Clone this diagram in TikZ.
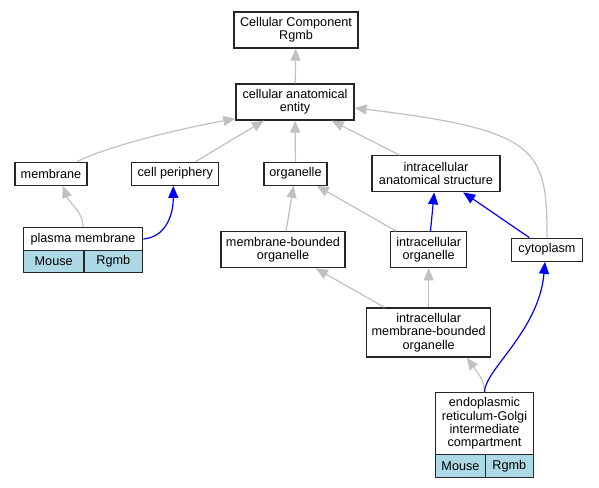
\documentclass[tikz,border=0pt]{standalone}
\usepackage{fontspec}
\setmainfont{Liberation Sans}
\usetikzlibrary{arrows.meta}
\definecolor{isagray}{HTML}{C0C0C0}
\definecolor{celllblue}{HTML}{ADD8E6}

\begin{document}
\begin{tikzpicture}[x=0.75pt, y=-0.75pt,
        term/.style={draw=black!85, line width=1pt, fill=white, inner sep=0pt,
            align=center, font=\fontsize{9.5}{10}\selectfont},
        species/.style={term, fill=celllblue},
        isa/.style={isagray, line width=0.9pt, -{Triangle[length=9pt,width=7.5pt]}},
        partof/.style={isa, blue}]
    \useasboundingbox (0,0) rectangle (599,488);

    % Top levels
    \node[term, minimum width=93pt, minimum height=27pt] (cc) at (296,30) {Cellular Component\\Rgmb};
    \node[term, minimum width=88.5pt, minimum height=27pt] (cae) at (295,102) {cellular anatomical\\entity};

    % Second row
    \node[term, minimum width=54pt, minimum height=17.25pt] (mem) at (51,173.7) {membrane};
    \node[term, minimum width=65.25pt, minimum height=17.25pt] (cp) at (175.3,173.7) {cell periphery};
    \node[term, minimum width=47.25pt, minimum height=17.25pt] (org) at (295.5,173.7) {organelle};
    \node[term, minimum width=96pt, minimum height=27pt] (ias) at (436,173.7) {intracellular\\anatomical structure};

    % Plasma membrane with its species cells
    \node[term, minimum width=89.5pt, minimum height=17.5pt] (pm) at (83,239) {plasma membrane};
    \node[species, minimum width=45.5pt, minimum height=16.2pt] (pmMouse) at (53.7,261.5) {Mouse};
    \node[species, minimum width=44pt, minimum height=16.2pt] (pmRgmb) at (113.3,261.5) {Rgmb};

    % Third row
    \node[term, minimum width=93pt, minimum height=27pt] (mbo) at (283,249.7) {membrane-bounded\\organelle};
    \node[term, minimum width=57pt, minimum height=27pt] (io) at (428.7,249.7) {intracellular\\organelle};
    \node[term, minimum width=53.25pt, minimum height=17.25pt] (cyt) at (547,249.7) {cytoplasm};

    % Lower terms
    \node[term, minimum width=93pt, minimum height=36.75pt] (imbo) at (428.7,332.5) {intracellular\\membrane-bounded\\organelle};
    \node[term, minimum width=73.2pt, minimum height=46.5pt] (er) at (484.5,423.7) {endoplasmic\\reticulum-Golgi\\intermediate\\compartment};
    \node[species, minimum width=37.2pt, minimum height=17pt] (erMouse) at (460.5,466) {Mouse};
    \node[species, minimum width=36pt, minimum height=17pt] (erRgmb) at (509.3,466) {Rgmb};

    % is_a edges (gray)
    \draw[isa] (cae) -- (cc);
    \draw[isa] ([xshift=-8pt]mem.north east) .. controls +(24,-12) and +(-76,14) .. ([yshift=1.5pt]cae.south west);
    \draw[isa] (cp) -- (cae);
    \draw[isa] (org) -- (cae);
    \draw[isa] (ias) -- (cae);
    \draw[isa] (cyt.north) .. controls +(0,-88) and +(185,22) .. ([yshift=-4.5pt]cae.east);
    \draw[isa] (pm.north) .. controls +(0,-15) and +(7,18) .. ([xshift=8.8pt]mem.south);
    \draw[isa] (mbo) -- (org);
    \draw[isa] (io) -- (org);
    \draw[isa] (imbo) -- (mbo);
    \draw[isa] (imbo) -- (io);
    \draw[isa] (er.north) .. controls +(0,-12) and +(11,15) .. ([xshift=28.5pt]imbo.south);

    % part_of edges (blue)
    \draw[partof] (pm.east) .. controls +(22,-2) and +(0,30) .. ([xshift=-1.5pt]cp.south);
    \draw[partof] (io) -- (ias);
    \draw[partof] (cyt) -- (ias);
    \draw[partof] (er.north) .. controls +(0,-22) and +(-6,69) .. ([xshift=-1.5pt]cyt.south);
\end{tikzpicture}
\end{document}
